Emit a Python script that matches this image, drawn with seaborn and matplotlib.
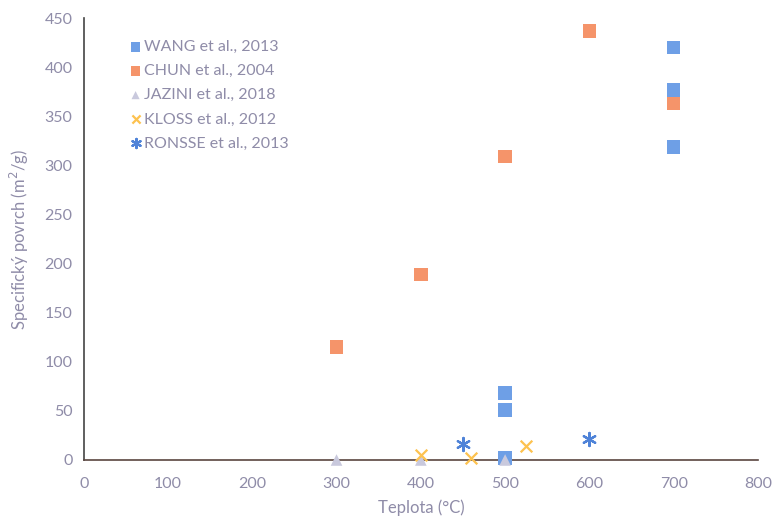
import matplotlib
matplotlib.use("Agg")
import matplotlib.pyplot as plt
import seaborn as sns
import pandas as pd

# Specific surface area of biochar vs. pyrolysis temperature
wang_t = [700, 700, 700, 500, 500, 500]
wang_s = [420, 377, 319, 68, 51, 2]

chun_t = [300, 400, 500, 600, 700]
chun_s = [115, 189, 309, 437, 363]

jazini_t = [300, 400, 500]
jazini_s = [0, 0, 0]

kloss_t = [400, 460, 525]
kloss_s = [5, 2, 14]

ronsse_t = [450, 600]
ronsse_s = [16, 21]

labels = ["WANG et al., 2013", "CHUN et al., 2004", "JAZINI et al., 2018",
          "KLOSS et al., 2012", "RONSSE et al., 2013"]

x_ticks = [0, 100, 200, 300, 400, 500, 600, 700, 800]
y_ticks = [0, 50, 100, 150, 200, 250, 300, 350, 400, 450]

sns.set_theme(style="white")
plt.rcParams["font.family"] = ["Lato", "DejaVu Sans"]

text_col = "#8f8ca8"

series = [
    (wang_t, wang_s, labels[0], "s", "#6e9fe6", 95, 0),
    (chun_t, chun_s, labels[1], "s", "#f5946a", 95, 0),
    (jazini_t, jazini_s, labels[2], "^", "#c9c9dd", 70, 0),
    (kloss_t, kloss_s, labels[3], "x", "#fdc24f", 70, 1.6),
    (ronsse_t, ronsse_s, labels[4], (6, 2, 0), "#4f83d8", 90, 1.6),
]

fig = plt.figure(figsize=(7.75, 5.18), dpi=100)
ax = fig.add_axes([0.108, 0.112, 0.870, 0.853])

for t, s, lab, mk, col, size, lw in series:
    df = pd.DataFrame({"t": t, "s": s})
    kw = dict(data=df, x="t", y="s", ax=ax, marker=mk, s=size, label=lab,
              zorder=3, clip_on=False)
    if lw:
        sns.scatterplot(color=col, linewidth=lw, **kw)
    else:
        sns.scatterplot(color=col, edgecolor="none", linewidth=0, **kw)

ax.set_xlim(0, 800)
ax.set_ylim(0, 450)
ax.set_xticks(x_ticks)
ax.set_yticks(y_ticks)
ax.tick_params(axis="both", direction="in", length=4, width=1, colors="#444444",
               labelcolor=text_col, labelsize=11.5)
ax.tick_params(axis="x", pad=12)
ax.tick_params(axis="y", pad=8)

for side in ["top", "right"]:
    ax.spines[side].set_visible(False)
ax.spines["left"].set_color("#444444")
ax.spines["bottom"].set_color("#5a4540")
ax.spines["left"].set_linewidth(1.2)
ax.spines["bottom"].set_linewidth(1.2)
ax.spines["left"].set_zorder(1)
ax.spines["bottom"].set_zorder(1)

ax.set_xlabel("Teplota (°C)", color=text_col, fontsize=12, labelpad=6)
ax.set_ylabel("Specifický povrch (m$^2$/g)", color=text_col, fontsize=12,
              labelpad=10)

leg = ax.legend(loc="upper left", bbox_to_anchor=(0.058, 0.965), frameon=False,
                fontsize=11.5, handletextpad=0.15, labelspacing=0.62,
                handlelength=0.8, markerscale=0.7, borderaxespad=0)
for txt in leg.get_texts():
    txt.set_color(text_col)

fig.savefig("out.png", dpi=100)
